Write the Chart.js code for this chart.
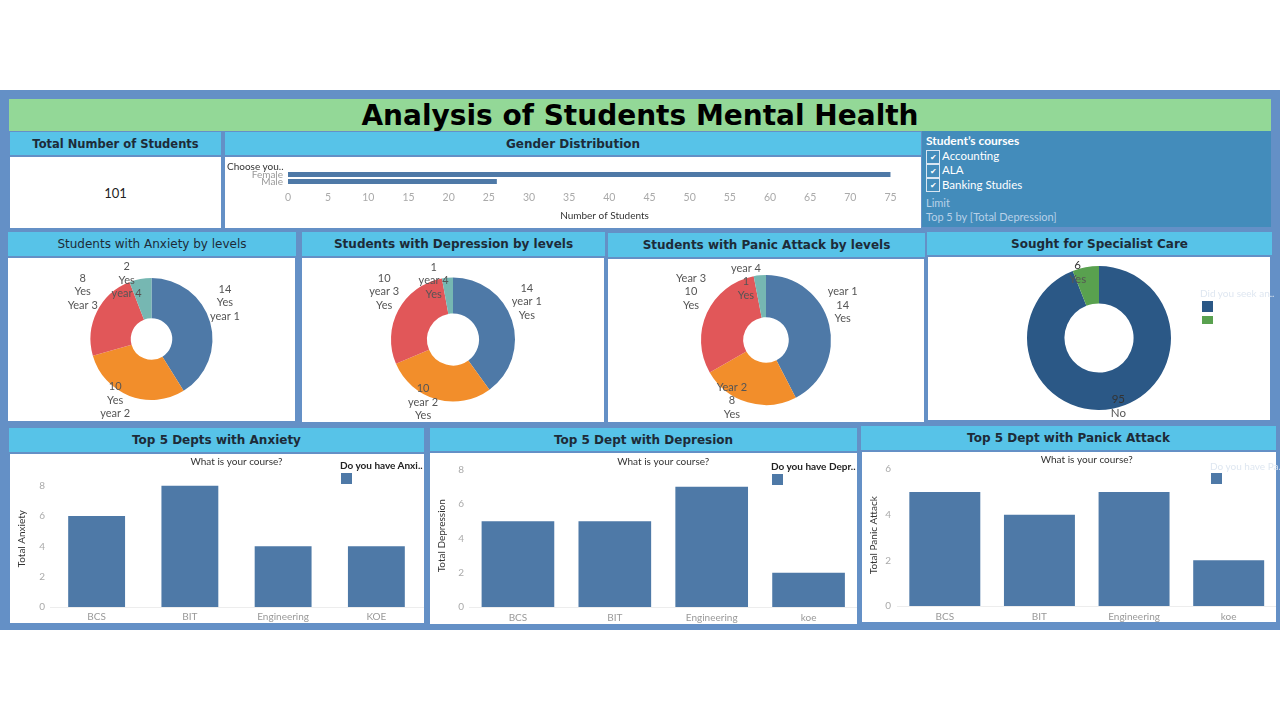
<!DOCTYPE html>
<html><head><meta charset="utf-8">
<script src="https://cdn.jsdelivr.net/npm/chart.js@4.4.1/dist/chart.umd.min.js"></script>
<style>
html,body{margin:0;padding:0;background:#fff;width:1280px;height:720px;overflow:hidden;font-family:Lato,sans-serif;}
.a{position:absolute;}
.hdr{position:absolute;background:#57c3e8;color:#1d2b38;font-family:'DejaVu Sans',sans-serif;font-weight:bold;font-size:12px;display:flex;align-items:center;justify-content:center;white-space:nowrap;}
.box{position:absolute;background:#fff;}
.box canvas{position:absolute;left:0;top:0;}
.t{position:absolute;white-space:nowrap;line-height:1;}
.cb{position:absolute;left:926px;width:12px;height:12px;border:1px solid #d9e6f2;color:#fff;font-size:8px;display:flex;align-items:center;justify-content:center;}
.sq{position:absolute;width:11px;height:11px;}
</style></head>
<body>
<div class="a" style="left:0;top:90px;width:1280px;height:540px;background:#6490c6;"></div>
<div class="a" style="left:9px;top:99px;width:1262px;height:32px;background:#93d897;display:flex;align-items:center;justify-content:center;font-family:'DejaVu Sans',sans-serif;font-weight:bold;font-size:28px;color:#000;">Analysis of Students Mental Health</div>

<div class="hdr" style="left:10px;top:132px;width:211px;height:23px;font-size:11.5px;">Total Number of Students</div>
<div class="box" style="left:10px;top:157px;width:211px;height:71px;display:flex;align-items:center;justify-content:center;font-size:13px;color:#222;" id="totalBox"></div>

<div class="hdr" style="left:225px;top:132px;width:696px;height:23px;">Gender Distribution</div>
<div class="box" style="left:225px;top:157px;width:696px;height:71px;">
  <canvas id="gender" width="696" height="71"></canvas>
  <div class="t" style="left:2px;top:4px;font-size:10px;color:#333;">Choose you..</div>
</div>

<div class="a" style="left:922px;top:131px;width:349px;height:96px;background:#438cbb;"></div>
<div class="t" style="left:926px;top:135px;font-size:12px;font-weight:bold;color:#fff;">Student’s courses</div>
<div class="cb" style="top:150px;">✔</div>
<div class="cb" style="top:164px;">✔</div>
<div class="cb" style="top:178px;">✔</div>
<div class="t" id="course0" style="left:942px;top:150px;font-size:11.5px;color:#fff;"></div>
<div class="t" id="course1" style="left:942px;top:164px;font-size:11.5px;color:#fff;"></div>
<div class="t" id="course2" style="left:942px;top:179px;font-size:11.5px;color:#fff;"></div>
<div class="t" style="left:926px;top:197px;font-size:11px;color:#b8d1e8;">Limit</div>
<div class="t" style="left:926px;top:211px;font-size:11px;color:#b8d1e8;">Top 5 by [Total Depression]</div>

<div class="hdr" style="left:8px;top:232px;width:288px;height:24px;font-weight:normal;">Students with Anxiety by levels</div>
<div class="box" style="left:8px;top:258px;width:287px;height:163px;"><canvas id="dAnx" width="287" height="163"></canvas></div>

<div class="hdr" style="left:302px;top:232px;width:303px;height:24px;">Students with Depression by levels</div>
<div class="box" style="left:302px;top:258px;width:302px;height:164px;"><canvas id="dDep" width="302" height="164"></canvas></div>

<div class="hdr" style="left:608px;top:233px;width:317px;height:24px;">Students with Panic Attack by levels</div>
<div class="box" style="left:608px;top:259px;width:316px;height:163px;"><canvas id="dPan" width="316" height="163"></canvas></div>

<div class="hdr" style="left:927px;top:232px;width:345px;height:23px;">Sought for Specialist Care</div>
<div class="box" style="left:928px;top:257px;width:342px;height:163px;">
  <canvas id="dSpec" width="342" height="163"></canvas>
  <div class="t" style="left:272px;top:31px;font-size:10px;color:#dfe7f1;">Did you seek an..</div>
  <div class="sq" id="specSq0" style="left:274px;top:44px;"></div>
  <div class="sq" id="specSq1" style="left:274px;top:59px;height:8px;"></div>
</div>

<div class="hdr" style="left:9px;top:428px;width:415px;height:24px;">Top 5 Depts with Anxiety</div>
<div class="box" style="left:10px;top:454px;width:414px;height:169px;">
  <canvas id="bAnx" width="414" height="169"></canvas>
  <div class="t" style="left:330px;top:6px;font-size:10px;font-weight:bold;color:#222;">Do you have Anxi..</div>
  <div class="sq" style="left:331px;top:19px;background:#4e79a7;"></div>
</div>

<div class="hdr" style="left:430px;top:428px;width:427px;height:23px;">Top 5 Dept with Depresion</div>
<div class="box" style="left:430px;top:453px;width:427px;height:171px;">
  <canvas id="bDep" width="427" height="171"></canvas>
  <div class="t" style="left:341px;top:8px;font-size:10px;font-weight:bold;color:#222;">Do you have Depr..</div>
  <div class="sq" style="left:342px;top:21px;background:#4e79a7;"></div>
</div>

<div class="hdr" style="left:861px;top:426px;width:415px;height:24px;">Top 5 Dept with Panick Attack</div>
<div class="box" style="left:862px;top:452px;width:414px;height:170px;">
  <canvas id="bPan" width="414" height="170"></canvas>
  <div class="t" style="left:348px;top:9px;font-size:10px;color:#dfe7f1;">Do you have Pa..</div>
  <div class="sq" style="left:349px;top:21px;background:#4e79a7;"></div>
</div>

<script>
// ---------- DATA ----------
const totalStudents = 101;
const courses = ['Accounting', 'ALA', 'Banking Studies'];

const genderLabels = ['Female', 'Male'];
const genderCounts = [75, 26];

const anxietyLevels = ['year 1', 'year 2', 'Year 3', 'year 4'];
const anxietyCounts = [14, 10, 8, 2];

const depressionLevels = ['year 1', 'year 2', 'year 3', 'year 4'];
const depressionCounts = [14, 10, 10, 1];

const panicLevels = ['year 1', 'Year 2', 'Year 3', 'year 4'];
const panicCounts = [14, 8, 10, 1];

const specialistLabels = ['No', 'Yes'];
const specialistCounts = [95, 6];

const anxietyDepts = ['BCS', 'BIT', 'Engineering', 'KOE'];
const anxietyTotals = [6, 8, 4, 4];

const depressionDepts = ['BCS', 'BIT', 'Engineering', 'koe'];
const depressionTotals = [5, 5, 7, 2];

const panicDepts = ['BCS', 'BIT', 'Engineering', 'koe'];
const panicTotals = [5, 4, 5, 2];

const yTicksStep = 2;
const genderTickStep = 5;

// ---------- STYLE ----------
const BAR = '#4e79a7';
const LEVEL_COLORS = ['#4e79a7', '#f28e2b', '#e15759', '#76b7b2'];
const SPEC_COLORS = ['#2b5886', '#59a14f'];

Chart.defaults.font.family = 'Lato, sans-serif';
Chart.defaults.devicePixelRatio = 1;

document.getElementById('totalBox').textContent = String(totalStudents);
courses.forEach((c, i) => document.getElementById('course' + i).textContent = c);
document.getElementById('specSq0').style.background = SPEC_COLORS[0];
document.getElementById('specSq1').style.background = SPEC_COLORS[1];

// Slice label plugin: places text near each arc's mid-angle
const sliceLabels = {
  id: 'sliceLabels',
  afterDatasetsDraw(chart, args, opts) {
    const ctx = chart.ctx;
    const meta = chart.getDatasetMeta(0);
    ctx.save();
    ctx.font = (opts.size || 11) + 'px Lato, sans-serif';
    ctx.textAlign = 'center';
    ctx.textBaseline = 'middle';
    meta.data.forEach((arc, i) => {
      const p = arc.getProps(['x', 'y', 'startAngle', 'endAngle', 'outerRadius'], true);
      const mid = (p.startAngle + p.endAngle) / 2;
      const n = opts.nudges[i];
      const cx = p.x + Math.cos(mid) * p.outerRadius * opts.k + n[0];
      const cy = p.y + Math.sin(mid) * p.outerRadius * opts.k + n[1];
      const lines = opts.lines[i];
      const lh = opts.lh || 13.5;
      lines.forEach((t, j) => {
        ctx.fillStyle = (opts.colors && opts.colors[j]) || '#555';
        ctx.fillText(t, cx, cy + (j - (lines.length - 1) / 2) * lh);
      });
    });
    ctx.restore();
  }
};

const topLabel = {
  id: 'topLabel',
  afterDraw(chart, args, opts) {
    if (!opts.text) return;
    const ctx = chart.ctx, a = chart.chartArea;
    ctx.save();
    ctx.font = '10px Lato, sans-serif';
    ctx.fillStyle = '#333';
    ctx.textAlign = 'center';
    ctx.textBaseline = 'middle';
    ctx.fillText(opts.text, (a.left + a.right) / 2, opts.y);
    ctx.restore();
  }
};

function donut(id, labels, values, colors, lines, nudges, cutout, pad, extra) {
  new Chart(document.getElementById(id), {
    type: 'doughnut',
    data: { labels, datasets: [{ data: values, backgroundColor: colors, borderWidth: 0 }] },
    options: {
      responsive: false, animation: false, cutout,
      layout: { padding: pad },
      plugins: {
        legend: { display: false }, tooltip: { enabled: false },
        sliceLabels: Object.assign({ lines, nudges, k: 1.15 }, extra || {})
      }
    },
    plugins: [sliceLabels]
  });
}

donut('dAnx', anxietyLevels, anxietyCounts, LEVEL_COLORS,
  anxietyCounts.map((v, i) => [String(v), 'Yes', anxietyLevels[i]]),
  [[6, -17], [-11, -4], [-6, -16], [-12, 10]], '34%', { top: 20, bottom: 21 });

donut('dDep', depressionLevels, depressionCounts, LEVEL_COLORS,
  depressionCounts.map((v, i) => [String(v), depressionLevels[i], 'Yes']),
  [[6, -16], [-11, -6], [-6, -14], [-13, 12]], '42%', { top: 19.5, bottom: 20.5 });

donut('dPan', panicLevels, panicCounts, LEVEL_COLORS,
  panicCounts.map((v, i) => [panicLevels[i], String(v), 'Yes']),
  [[4, -17], [-13, -11], [-7, -17], [-13, 16]], '35%', { top: 16, bottom: 17 });

donut('dSpec', specialistLabels, specialistCounts, SPEC_COLORS,
  specialistCounts.map((v, i) => [String(v), specialistLabels[i]]),
  [[4, -13], [-6, 16]], '48%', { top: 9, bottom: 10 }, { lh: 14, size: 11.5, colors: ['#333', '#555'] });

function barChart(id, labels, values, o) {
  new Chart(document.getElementById(id), {
    type: 'bar',
    data: { labels, datasets: [{ data: values, backgroundColor: BAR, barPercentage: o.bp, categoryPercentage: 1 }] },
    options: {
      responsive: false, animation: false,
      layout: { padding: { left: 0, right: o.padR, top: o.padT, bottom: 0 } },
      plugins: { legend: { display: false }, tooltip: { enabled: false }, topLabel: { text: 'What is your course?', y: o.titleY } },
      scales: {
        x: {
          grid: { display: false, drawTicks: false },
          border: { display: true, color: '#ededed' },
          ticks: { color: '#999', font: { size: 10 }, padding: o.xPad },
          afterFit(s) { s.height = o.xH; }
        },
        y: {
          min: 0, max: o.max,
          grid: { display: false, drawTicks: false },
          border: { display: false },
          ticks: { stepSize: yTicksStep, includeBounds: false, color: '#aaa', font: { size: 10 }, padding: o.yPad },
          title: { display: true, text: o.yTitle, color: '#333', font: { size: 10 }, padding: { top: 6, bottom: 0 } },
          afterFit(s) { s.width = o.yW; }
        }
      }
    },
    plugins: [topLabel]
  });
}

barChart('bAnx', anxietyDepts, anxietyTotals,
  { bp: 0.61, padR: 1, padT: 16.5, max: 9, xH: 16, yW: 40, xPad: 4, yPad: 5, titleY: 8, yTitle: 'Total Anxiety' });
barChart('bDep', depressionDepts, depressionTotals,
  { bp: 0.75, padR: 0, padT: 11.5, max: 8.3, xH: 17, yW: 39.5, xPad: 5, yPad: 5.5, titleY: 9, yTitle: 'Total Depression' });
barChart('bPan', panicDepts, panicTotals,
  { bp: 0.75, padR: 0, padT: 10.5, max: 6.2, xH: 16, yW: 35.5, xPad: 5, yPad: 6.5, titleY: 8, yTitle: 'Total Panic Attack' });

// Gender distribution (horizontal bars)
new Chart(document.getElementById('gender'), {
  type: 'bar',
  data: { labels: genderLabels, datasets: [{ data: genderCounts, backgroundColor: BAR, barPercentage: 0.7, categoryPercentage: 1 }] },
  options: {
    indexAxis: 'y', responsive: false, animation: false,
    layout: { padding: { left: 0, right: 0, top: 14, bottom: 0 } },
    plugins: { legend: { display: false }, tooltip: { enabled: false } },
    scales: {
      y: {
        grid: { display: false, drawTicks: false }, border: { display: false },
        ticks: { color: '#999', font: { size: 10 }, padding: 5, autoSkip: false },
        afterFit(s) { s.width = 63; }
      },
      x: {
        min: 0, max: 78.8,
        grid: { display: false, drawTicks: false }, border: { display: false },
        ticks: { stepSize: genderTickStep, includeBounds: false, color: '#aaa', font: { size: 10.5 }, padding: 6 },
        title: { display: true, text: 'Number of Students', color: '#333', font: { size: 10 }, padding: { top: 0, bottom: 6 } },
        afterFit(s) { s.height = 43; }
      }
    }
  }
});
</script>
</body></html>
